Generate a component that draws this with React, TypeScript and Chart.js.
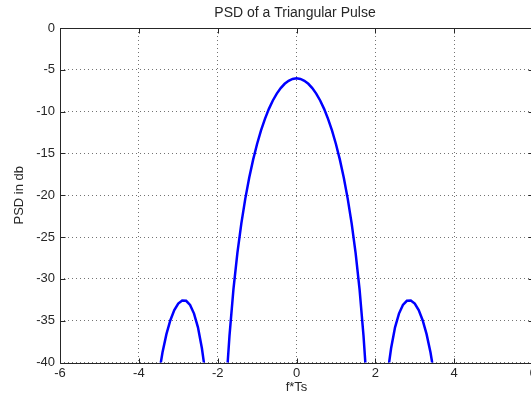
import React, { useEffect, useRef } from "react";
import { Chart, registerables } from "chart.js";

Chart.register(...registerables);

const chartTitle = "PSD of a Triangular Pulse";
const xAxisLabel = "f*Ts";
const yAxisLabel = "PSD in db";

const xMin = -6;
const xMax = 6;
const xStep = 2;
const yMin = -40;
const yMax = 0;
const yStep = 5;

// normalized frequency f*Ts
const freq = [
  -3.6, -3.5, -3.4, -3.3, -3.2, -3.1, -3.0, -2.9, -2.8, -2.7, -2.6, -2.5, -2.4, -2.35, -2.3, -2.2, -2.1,
  -2.0, -1.9, -1.8, -1.75, -1.7, -1.6, -1.5, -1.4, -1.3, -1.2, -1.1, -1.0, -0.9, -0.8, -0.7, -0.6, -0.5,
  -0.4, -0.3, -0.2, -0.1, 0.0, 0.1, 0.2, 0.3, 0.4, 0.5, 0.6, 0.7, 0.8, 0.9, 1.0, 1.1, 1.2, 1.3, 1.4, 1.5,
  1.6, 1.7, 1.75, 1.8, 1.9, 2.0, 2.1, 2.2, 2.3, 2.35, 2.4, 2.5, 2.6, 2.7, 2.8, 2.9, 3.0, 3.1, 3.2, 3.3,
  3.4, 3.5, 3.6,
];

// PSD in dB
const psdDb = [
  -45.35, -41.65, -38.81, -36.61, -34.94, -33.74, -32.95, -32.58, -32.62, -33.12, -34.15, -35.8, -38.3,
  -39.99, -42.05, -47.96, -58.98,
  -80.0, -57.24, -44.48, -40.27, -36.8, -31.26, -26.93, -23.39, -20.43, -17.9, -15.74, -13.87, -12.25,
  -10.86, -9.67, -8.67, -7.84,
  -7.18, -6.67, -6.31, -6.09, -6.02, -6.09, -6.31, -6.67, -7.18, -7.84, -8.67, -9.67, -10.86, -12.25,
  -13.87, -15.74, -17.9, -20.43, -23.39, -26.93,
  -31.26, -36.8, -40.27, -44.48, -57.24, -80.0, -58.98, -47.96, -42.05, -39.99, -38.3, -35.8, -34.15,
  -33.12, -32.62, -32.58, -32.95, -33.74, -34.94, -36.61,
  -38.81, -41.65, -45.35,
];

const FONT = "'Liberation Sans', Arial, Helvetica, sans-serif";
const TEXT_COLOR = "#262626";
const GRID_COLOR = "rgba(0,0,0,0.55)";
const CANVAS_W = 560;
const CANVAS_H = 398;

const framePlugin = {
  id: "matlabFrame",
  afterDatasetsDraw(chart: any) {
    const ctx = chart.ctx as CanvasRenderingContext2D;
    const a = chart.chartArea;
    const xs = chart.scales.x;
    const ys = chart.scales.y;
    const L = Math.round(a.left) + 0.5;
    const R = Math.round(a.right) + 0.5;
    const T = Math.round(a.top) + 0.5;
    const B = Math.round(a.bottom) + 0.5;
    ctx.save();
    ctx.strokeStyle = TEXT_COLOR;
    ctx.lineWidth = 1;
    ctx.setLineDash([]);
    ctx.beginPath();
    ctx.rect(L, T, R - L, B - T);
    ctx.stroke();
    const tl = 5;
    ctx.beginPath();
    for (let v = xMin; v <= xMax; v += xStep) {
      const px = Math.round(xs.getPixelForValue(v)) + 0.5;
      ctx.moveTo(px, B);
      ctx.lineTo(px, B - tl);
      ctx.moveTo(px, T);
      ctx.lineTo(px, T + tl);
    }
    for (let v = yMin; v <= yMax; v += yStep) {
      const py = Math.round(ys.getPixelForValue(v)) + 0.5;
      ctx.moveTo(L, py);
      ctx.lineTo(L + tl, py);
      ctx.moveTo(R, py);
      ctx.lineTo(R - tl, py);
    }
    ctx.stroke();

    ctx.fillStyle = TEXT_COLOR;
    ctx.textAlign = "center";
    ctx.textBaseline = "middle";
    ctx.font = `14px ${FONT}`;
    ctx.fillText(chartTitle, 295, 13);
    ctx.font = `13px ${FONT}`;
    ctx.fillText(xAxisLabel, (a.left + a.right) / 2, 387);
    ctx.translate(19, (a.top + a.bottom) / 2);
    ctx.rotate(-Math.PI / 2);
    ctx.fillText(yAxisLabel, 0, 0);
    ctx.restore();
  },
};

export default function App() {
  const canvasRef = useRef<HTMLCanvasElement | null>(null);

  useEffect(() => {
    const canvas = canvasRef.current;
    if (!canvas) return;
    const points = freq.map((f, i) => ({ x: f, y: psdDb[i] }));
    const chart = new Chart(canvas, {
      type: "line",
      data: {
        datasets: [
          {
            data: points,
            borderColor: "#0000ff",
            borderWidth: 2.5,
            pointRadius: 0,
            tension: 0,
            fill: false,
            clip: 0,
          } as any,
        ],
      },
      options: {
        responsive: false,
        animation: false,
        devicePixelRatio: 1,
        parsing: false,
        layout: { padding: { top: 28, right: CANVAS_W - 533, left: 0, bottom: 0 } },
        plugins: {
          legend: { display: false },
          title: { display: false },
          tooltip: { enabled: false },
        },
        scales: {
          x: {
            type: "linear",
            min: xMin,
            max: xMax,
            ticks: {
              stepSize: xStep,
              color: TEXT_COLOR,
              font: { family: FONT, size: 13 },
              padding: 3,
              maxRotation: 0,
              autoSkip: false,
            },
            grid: { color: GRID_COLOR, lineWidth: 1, drawTicks: false },
            border: { display: false, dash: [1, 3] },
            afterFit: (s: any) => {
              s.height = 35.5;
            },
          },
          y: {
            type: "linear",
            min: yMin,
            max: yMax,
            ticks: {
              stepSize: yStep,
              color: TEXT_COLOR,
              font: { family: FONT, size: 13 },
              padding: 5,
              autoSkip: false,
            },
            grid: { color: GRID_COLOR, lineWidth: 1, drawTicks: false },
            border: { display: false, dash: [1, 3] },
            afterFit: (s: any) => {
              s.width = 60;
            },
          },
        },
      } as any,
      plugins: [framePlugin],
    });
    return () => chart.destroy();
  }, []);

  return (
    <div
      style={{
        position: "fixed",
        left: 0,
        top: 0,
        width: 531,
        height: 398,
        overflow: "hidden",
        background: "#ffffff",
      }}
    >
      <canvas
        ref={canvasRef}
        width={CANVAS_W}
        height={CANVAS_H}
        style={{ display: "block", width: CANVAS_W, height: CANVAS_H }}
      />
    </div>
  );
}
